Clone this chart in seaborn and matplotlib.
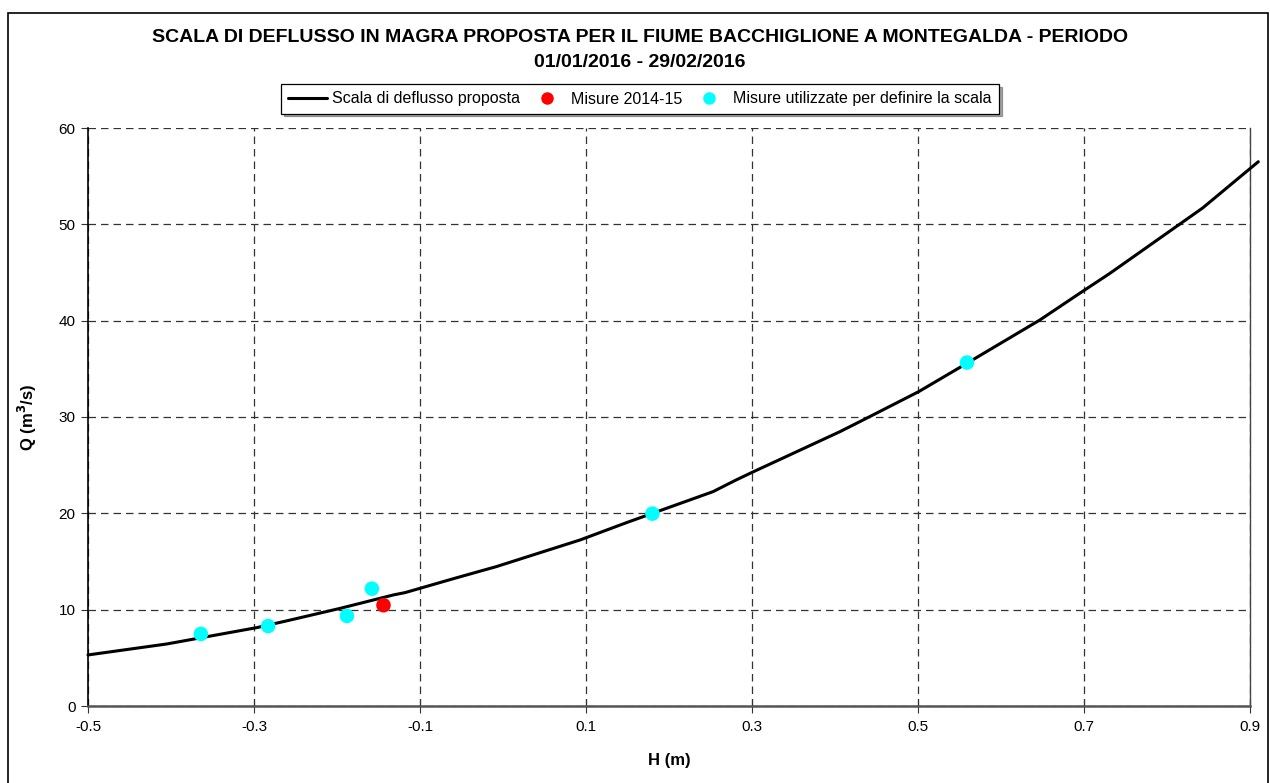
import matplotlib
matplotlib.use("Agg")
import matplotlib.pyplot as plt
import seaborn as sns
import pandas as pd
from matplotlib.lines import Line2D
from matplotlib.patches import Rectangle

# Rating curve (scala di deflusso proposta)
curve_h = [-0.5, -0.405, -0.297, -0.261, -0.196, -0.132, -0.118, -0.058, -0.008,
           0.093, 0.149, 0.253, 0.281, 0.302, 0.406, 0.438, 0.501, 0.559, 0.647,
           0.695, 0.731, 0.843, 0.910]
curve_q = [5.3, 6.44, 8.13, 8.83, 10.14, 11.53, 11.77, 13.26, 14.47,
           17.24, 19.04, 22.25, 23.47, 24.33, 28.48, 29.87, 32.64, 35.58, 40.08,
           42.85, 44.9, 51.7, 56.5]

# Misure 2014-15
red_h = [-0.144]
red_q = [10.46]

# Misure utilizzate per definire la scala
cyan_h = [-0.364, -0.283, -0.188, -0.158, 0.180, 0.559]
cyan_q = [7.48, 8.3, 9.35, 12.18, 19.97, 35.65]

x_ticks = [-0.5, -0.3, -0.1, 0.1, 0.3, 0.5, 0.7, 0.9]
x_tick_labels = ["-0.5", "-0.3", "-0.1", "0.1", "0.3", "0.5", "0.7", "0.9"]
y_ticks = [0, 10, 20, 30, 40, 50, 60]

title_line1 = "SCALA DI DEFLUSSO IN MAGRA PROPOSTA PER IL FIUME BACCHIGLIONE A MONTEGALDA - PERIODO"
title_line2 = "01/01/2016 - 29/02/2016"

sns.set_style("white")
plt.rcParams['font.family'] = ['Liberation Sans', 'DejaVu Sans']
plt.rcParams['text.color'] = 'black'
plt.rcParams['axes.labelcolor'] = 'black'
plt.rcParams['xtick.color'] = 'black'
plt.rcParams['ytick.color'] = 'black'

fig = plt.figure(figsize=(12.7, 7.83), dpi=100)
W, H = 1270, 783
ax = fig.add_axes([88 / W, 1 - 706 / H, (1250 - 88) / W, (706 - 128) / H])

# outer frame
fig.patches.append(Rectangle((8 / W, -0.01), 1260 / W, 1 - 13 / H + 0.01,
                             transform=fig.transFigure, fill=False,
                             edgecolor="black", linewidth=1.2, zorder=0))

df_curve = pd.DataFrame({"H": curve_h, "Q": curve_q})
df_red = pd.DataFrame({"H": red_h, "Q": red_q})
df_cyan = pd.DataFrame({"H": cyan_h, "Q": cyan_q})

sns.lineplot(data=df_curve, x="H", y="Q", ax=ax, color="black", linewidth=2.2,
             sort=False, estimator=None, clip_on=False, zorder=3)
sns.scatterplot(data=df_red, x="H", y="Q", ax=ax, color="#FF0000", s=110,
                edgecolor="none", zorder=4)
sns.scatterplot(data=df_cyan, x="H", y="Q", ax=ax, color="#00FFFF", s=110,
                edgecolor="none", zorder=4)

ax.set_xlim(-0.5, 0.9)
ax.set_ylim(0, 60)
ax.set_xticks(x_ticks)
ax.set_xticklabels(x_tick_labels)
ax.set_yticks(y_ticks)

ax.grid(True, color="#333333", linestyle=(0, (6, 4)), linewidth=0.9)
ax.set_axisbelow(True)

ax.spines["top"].set_visible(False)
ax.spines["right"].set_color("#444444")
ax.spines["right"].set_linewidth(1.0)
ax.spines["left"].set_color("black")
ax.spines["left"].set_linewidth(1.2)
ax.spines["bottom"].set_color("#555555")
ax.spines["bottom"].set_linewidth(1.8)

ax.tick_params(axis="x", direction="inout", length=10, width=0.8, color="#333333",
               labelsize=11, pad=5, bottom=True)
ax.tick_params(axis="y", direction="out", length=5, width=0.8, color="#333333",
               labelsize=11, pad=4, left=True)

ax.set_xlabel("H (m)", fontsize=12, fontweight="bold", labelpad=14)
ax.set_ylabel("Q (m$^\\mathbf{3}$/s)", fontsize=12, fontweight="bold", labelpad=14)

fig.text(640 / W, 1 - 37 / H, title_line1, ha="center", va="center",
         fontsize=14, fontweight="bold")
fig.text(640 / W, 1 - 62.5 / H, title_line2, ha="center", va="center",
         fontsize=14, fontweight="bold")

handles = [
    Line2D([0], [0], color="black", linewidth=2.2),
    Line2D([0], [0], marker="o", color="none", markerfacecolor="#FF0000",
           markeredgecolor="none", markersize=9),
    Line2D([0], [0], marker="o", color="none", markerfacecolor="#00FFFF",
           markeredgecolor="none", markersize=9),
]
labels = ["Scala di deflusso proposta", "Misure 2014-15",
          "Misure utilizzate per definire la scala"]
leg = fig.legend(handles, labels, loc="center", bbox_to_anchor=(640 / W, 1 - 99 / H),
                 ncol=3, frameon=True, fancybox=False, shadow=True, fontsize=11.5,
                 handlelength=2.45, handletextpad=0.3, columnspacing=0.45,
                 borderpad=0.45, borderaxespad=0)
leg.get_frame().set_edgecolor("black")
leg.get_frame().set_linewidth(0.9)

fig.savefig("out.png", dpi=100)
